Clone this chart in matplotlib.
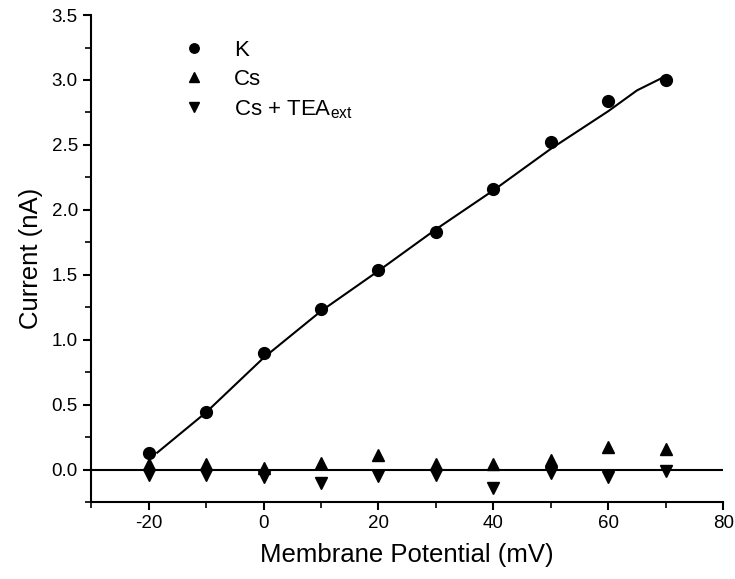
import numpy as np
import matplotlib.pyplot as plt
from matplotlib.ticker import MultipleLocator

plt.rcParams['font.family'] = ['Liberation Sans', 'DejaVu Sans']
plt.rcParams['mathtext.fontset'] = 'custom'
plt.rcParams['mathtext.rm'] = 'Liberation Sans'
plt.rcParams['axes.unicode_minus'] = False

voltage = [-20, -10, 0, 10, 20, 30, 40, 50, 60, 70]
k_current = [0.13, 0.44, 0.90, 1.24, 1.54, 1.83, 2.16, 2.52, 2.84, 3.00]
cs_current = [0.04, 0.04, 0.01, 0.05, 0.11, 0.045, 0.045, 0.07, 0.17, 0.155]
cs_tea_current = [-0.04, -0.04, -0.06, -0.10, -0.05, -0.04, -0.14, -0.03, -0.06, -0.01]

# smooth fit through the K points
fit_v = [-18.5, -10, 0, 10, 20, 30, 40, 50, 60, 65, 70]
fit_i = [0.13, 0.44, 0.86, 1.22, 1.53, 1.85, 2.15, 2.47, 2.76, 2.92, 3.03]

fig = plt.figure(figsize=(7.35, 5.79), dpi=100)
ax = fig.add_axes([0.124, 0.133, 0.860, 0.841])

ax.axhline(0, color='black', lw=1.5, zorder=1)
ax.plot(fit_v, fit_i, color='black', lw=1.5, zorder=2)

ax.plot(voltage, k_current, 'o', color='black', ms=8.5, label='K', zorder=3)
ax.plot(voltage, cs_current, '^', color='black', ms=8.5, label='Cs', zorder=3)
ax.plot(voltage, cs_tea_current, 'v', color='black', ms=8.5,
        label=r'Cs + TEA$_{\mathregular{ext}}$', zorder=3)

ax.set_xlim(-30, 80)
ax.set_ylim(-0.25, 3.5)
ax.xaxis.set_major_locator(MultipleLocator(20))
ax.xaxis.set_minor_locator(MultipleLocator(10))
ax.yaxis.set_major_locator(MultipleLocator(0.5))
ax.yaxis.set_minor_locator(MultipleLocator(0.25))
ax.yaxis.set_major_formatter(plt.FormatStrFormatter('%.1f'))

for s in ['top', 'right']:
    ax.spines[s].set_visible(False)
for s in ['left', 'bottom']:
    ax.spines[s].set_linewidth(1.5)

ax.tick_params(which='major', length=6, width=1.5, labelsize=13.5, direction='out')
ax.tick_params(which='minor', length=4, width=1.2, direction='out')

ax.set_xlabel('Membrane Potential (mV)', fontsize=18.5, labelpad=8)
ax.set_ylabel('Current (nA)', fontsize=18.5, labelpad=6)

leg = ax.legend(loc='upper left', bbox_to_anchor=(0.11, 0.99), frameon=False,
                fontsize=16, markerscale=0.8, handletextpad=1.2, labelspacing=0.36,
                handlelength=1.2)

fig.savefig('out.png', format='png')
